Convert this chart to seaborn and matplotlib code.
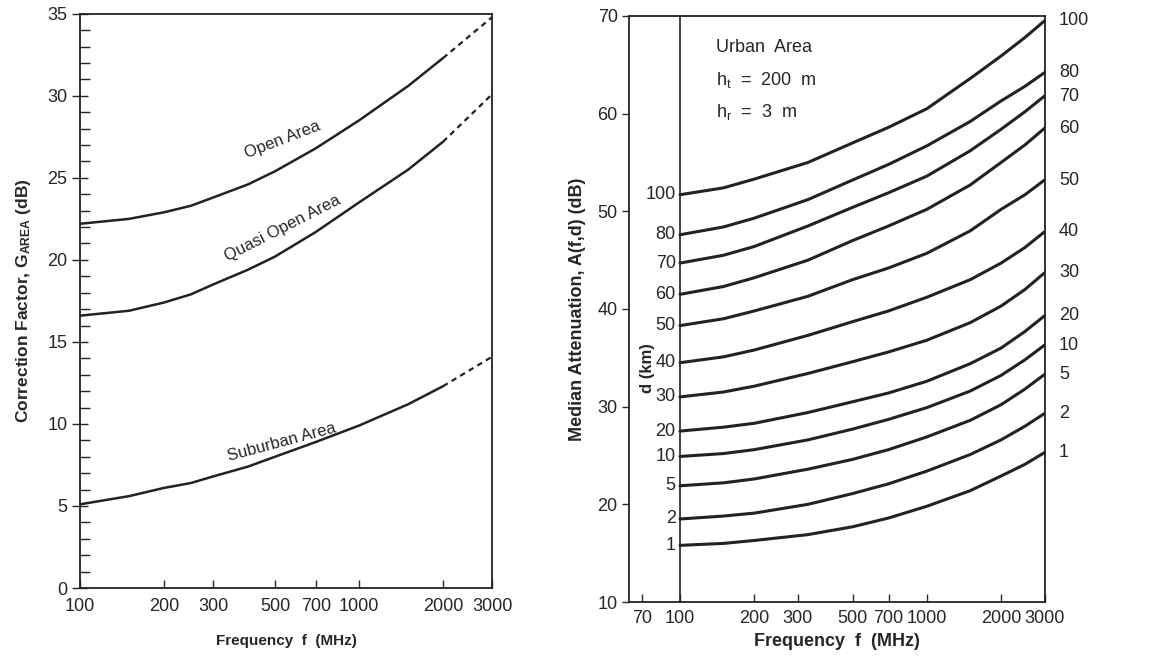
import pandas as pd
import seaborn as sns
import matplotlib.pyplot as plt
from matplotlib.ticker import FixedLocator, FixedFormatter, NullLocator, MultipleLocator

# ---- left panel: area correction factor (dB) ----
area_freq = [100, 150, 200, 250, 300, 400, 500, 700, 1000, 1500, 2000]
open_area = [22.2, 22.5, 22.9, 23.3, 23.8, 24.6, 25.4, 26.8, 28.5, 30.6, 32.3]
quasi_open_area = [16.6, 16.9, 17.4, 17.9, 18.5, 19.4, 20.2, 21.7, 23.5, 25.5, 27.2]
suburban_area = [5.1, 5.6, 6.1, 6.4, 6.8, 7.4, 8.0, 8.9, 9.9, 11.2, 12.3]
# dashed extension past 2000 MHz
extrap_freq = [2000, 3000]
open_extrap = [32.3, 34.8]
quasi_extrap = [27.2, 30.1]
suburban_extrap = [12.3, 14.1]
area_names = ["Open Area", "Quasi Open Area", "Suburban Area"]

# ---- right panel: median attenuation A(f,d) in urban area ----
urban_freq = [100, 150, 200, 330, 500, 700, 1000, 1500, 2000, 2500, 3000]
distances = [1, 2, 5, 10, 20, 30, 40, 50, 60, 70, 80, 100]
loss_d1 = [15.8, 16.0, 16.3, 16.9, 17.7, 18.6, 19.8, 21.4, 22.9, 24.1, 25.3]
loss_d2 = [18.5, 18.8, 19.1, 20.0, 21.1, 22.1, 23.4, 25.1, 26.6, 28.0, 29.3]
loss_d5 = [21.9, 22.2, 22.6, 23.6, 24.6, 25.6, 26.9, 28.6, 30.2, 31.8, 33.3]
loss_d10 = [24.9, 25.2, 25.6, 26.6, 27.7, 28.7, 29.9, 31.6, 33.2, 34.8, 36.3]
loss_d20 = [27.5, 27.9, 28.3, 29.4, 30.5, 31.4, 32.6, 34.4, 36.0, 37.7, 39.3]
loss_d30 = [31.0, 31.5, 32.1, 33.4, 34.6, 35.6, 36.8, 38.6, 40.3, 42.0, 43.7]
loss_d40 = [34.5, 35.1, 35.8, 37.3, 38.7, 39.8, 41.2, 43.0, 44.7, 46.3, 47.9]
loss_d50 = [38.3, 39.0, 39.8, 41.3, 43.0, 44.2, 45.7, 48.0, 50.2, 51.7, 53.2]
loss_d60 = [41.5, 42.3, 43.2, 45.0, 47.0, 48.5, 50.2, 52.7, 55.0, 56.8, 58.5]
loss_d70 = [44.7, 45.5, 46.4, 48.5, 50.4, 51.9, 53.6, 56.2, 58.4, 60.2, 61.8]
loss_d80 = [47.6, 48.4, 49.3, 51.2, 53.2, 54.8, 56.7, 59.2, 61.3, 62.8, 64.2]
loss_d100 = [51.7, 52.4, 53.3, 55.0, 57.0, 58.6, 60.5, 63.6, 65.9, 67.8, 69.5]
loss_all = [loss_d1, loss_d2, loss_d5, loss_d10, loss_d20, loss_d30,
            loss_d40, loss_d50, loss_d60, loss_d70, loss_d80, loss_d100]

sns.set_style("ticks")
plt.rcParams['font.family'] = ['Liberation Sans', 'DejaVu Sans']
plt.rcParams['mathtext.fontset'] = 'custom'
plt.rcParams['mathtext.rm'] = 'Liberation Sans'
plt.rcParams['mathtext.bf'] = 'Liberation Sans:bold'
plt.rcParams['mathtext.it'] = 'Liberation Sans:italic'

ink = '#222222'
fig = plt.figure(figsize=(11.58, 6.57), dpi=100)
ax1 = fig.add_axes([0.069, 0.105, 0.356, 0.874])
ax2 = fig.add_axes([0.543, 0.0837, 0.359, 0.892])

# ---------------- left ----------------
ax1.set_xscale('log')
rows = []
for name, vals in zip(area_names, [open_area, quasi_open_area, suburban_area]):
	rows += [(name, f, v) for f, v in zip(area_freq, vals)]
df_area = pd.DataFrame(rows, columns=['Area', 'Frequency', 'G'])
sns.lineplot(data=df_area, x='Frequency', y='G', units='Area', estimator=None,
	color=ink, lw=1.8, ax=ax1)

rows = []
for name, vals in zip(area_names, [open_extrap, quasi_extrap, suburban_extrap]):
	rows += [(name, f, v) for f, v in zip(extrap_freq, vals)]
df_ext = pd.DataFrame(rows, columns=['Area', 'Frequency', 'G'])
sns.lineplot(data=df_ext, x='Frequency', y='G', units='Area', estimator=None,
	color=ink, lw=1.6, ls=(0, (2.5, 2)), ax=ax1)

ax1.set_xlim(100, 3000)
ax1.set_ylim(0, 35)
xt = [100, 200, 300, 500, 700, 1000, 2000, 3000]
ax1.xaxis.set_major_locator(FixedLocator(xt))
ax1.xaxis.set_major_formatter(FixedFormatter([str(v) for v in xt]))
ax1.xaxis.set_minor_locator(NullLocator())
ax1.yaxis.set_major_locator(MultipleLocator(5))
ax1.yaxis.set_minor_locator(MultipleLocator(1))
ax1.tick_params(axis='x', direction='in', length=6, width=1, pad=7, labelsize=13)
ax1.tick_params(axis='y', which='major', direction='inout', length=12, width=1,
	labelsize=13, pad=3)
ax1.tick_params(axis='y', which='minor', direction='in', length=7, width=1)
for s in ax1.spines.values():
	s.set_linewidth(1.3)
	s.set_color(ink)
ax1.set_xlabel('Frequency  f  (MHz)', fontsize=11, fontweight='bold', labelpad=14)
ax1.set_ylabel(r'Correction Factor, G$_{\mathbf{AREA}}$ (dB)', fontsize=12.5,
	fontweight='bold', labelpad=10)

ax1.text(530, 27.3, 'Open Area', rotation=21, ha='center', va='center', fontsize=12)
ax1.text(533, 21.9, 'Quasi Open Area', rotation=27, ha='center', va='center', fontsize=12)
ax1.text(529, 8.9, 'Suburban Area', rotation=15, ha='center', va='center', fontsize=12)

# ---------------- right ----------------
ax2.set_xscale('log')
rows = []
for d, vals in zip(distances, loss_all):
	rows += [(d, f, v) for f, v in zip(urban_freq, vals)]
df_urban = pd.DataFrame(rows, columns=['d', 'Frequency', 'A'])
sns.lineplot(data=df_urban, x='Frequency', y='A', units='d', estimator=None,
	color=ink, lw=2.2, ax=ax2)

ax2.axvline(100, color=ink, lw=1.2)
ax2.set_xlim(62, 3000)
ax2.set_ylim(10, 70)
xt2 = [70, 100, 200, 300, 500, 700, 1000, 2000, 3000]
ax2.xaxis.set_major_locator(FixedLocator(xt2))
ax2.xaxis.set_major_formatter(FixedFormatter([str(v) for v in xt2]))
ax2.xaxis.set_minor_locator(NullLocator())
ax2.yaxis.set_major_locator(MultipleLocator(10))
ax2.tick_params(axis='x', direction='in', length=6, width=1, pad=6, labelsize=13)
ax2.tick_params(axis='y', direction='out', length=5, width=1, pad=3, labelsize=13)
for s in ax2.spines.values():
	s.set_linewidth(1.3)
	s.set_color(ink)
ax2.set_xlabel('Frequency  f  (MHz)', fontsize=13, fontweight='bold', labelpad=4)
ax2.set_ylabel('Median Attenuation, A(f,d) (dB)', fontsize=13, fontweight='bold',
	labelpad=8)

# distance labels on both ends of each curve
for d, vals in zip(distances, loss_all):
	ax2.text(96, vals[0], str(d), ha='right', va='center', fontsize=13)
	ax2.text(1.035, vals[-1], str(d), ha='left', va='center', fontsize=13,
		transform=ax2.get_yaxis_transform(), clip_on=False)
ax2.text(74, 34, 'd (km)', rotation=90, ha='center', va='center', fontsize=12,
	fontweight='bold')

ax2.text(140, 66.8, 'Urban  Area', fontsize=13, va='center')
ax2.text(140, 63.4, r'h$_{\mathrm{t}}$  =  200  m', fontsize=13, va='center')
ax2.text(140, 60.2, r'h$_{\mathrm{r}}$  =  3  m', fontsize=13, va='center')

plt.savefig('out.png', dpi=100)
